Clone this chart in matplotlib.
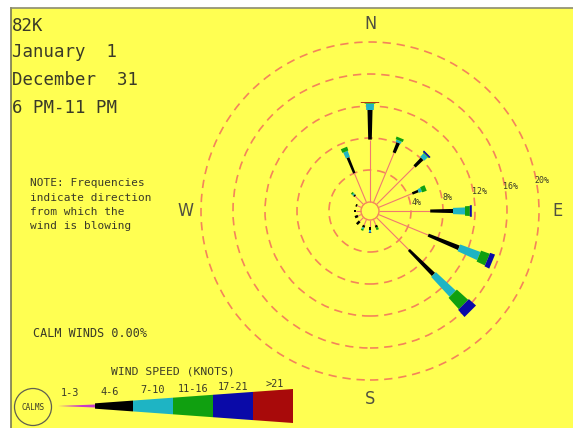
import matplotlib
matplotlib.use('Agg')
import matplotlib.pyplot as plt
from matplotlib.patches import Circle, Polygon, Rectangle
import numpy as np

W, H = 573, 428            # output size in px
CX, CY = 370, 211          # rose centre (px, from top-left)
PX_PER_PCT = 8.0
CALM_R = 9 / PX_PER_PCT    # calm circle radius, in % units

# 16 compass points, bearings clockwise from north
directions = ['N', 'NNE', 'NE', 'ENE', 'E', 'ESE', 'SE', 'SSE',
              'S', 'SSW', 'SW', 'WSW', 'W', 'WNW', 'NW', 'NNW']
bearings = np.arange(16) * 22.5

speed_classes = ['1-3', '4-6', '7-10', '11-16', '17-21', '>21']
class_colors = ['#C83CC8', '#000000', '#1EB4C4', '#10A010', '#0A0AA8', '#A80A0A']

# frequency (%) per direction for each speed class
freq_1_3 = [7.8, 6.75, 6.75, 4.6, 6.4, 6.75, 5.75, 0.8, 0.9, 0.8, 0.7, 0.5, 0.6, 0.6, 1.5, 4.0]
freq_4_6 = [3.7, 1.35, 1.35, 0.8, 2.85, 4.15, 4.35, 0.3, 0.3, 0.3, 0.5, 0.4, 0.3, 0.2, 0.2, 2.1]
freq_7_10 = [0.8, 0.3, 0.6, 0.4, 1.5, 2.7, 3.4, 0.0, 0.3, 0.2, 0.0, 0.0, 0.0, 0.0, 0.2, 0.8]
freq_11_16 = [0.1, 0.35, 0.1, 0.6, 0.6, 1.15, 1.9, 0.3, 0.0, 0.2, 0.0, 0.0, 0.0, 0.0, 0.2, 0.5]
freq_17_21 = [0.0, 0.0, 0.2, 0.0, 0.25, 0.65, 1.2, 0.0, 0.1, 0.0, 0.0, 0.0, 0.0, 0.0, 0.0, 0.0]
freq_over_21 = [0.1, 0.0, 0.0, 0.0, 0.0, 0.0, 0.0, 0.0, 0.0, 0.0, 0.0, 0.0, 0.0, 0.0, 0.0, 0.0]

ring_levels = [4, 8, 12, 16, 20]
ring_labels = ['4%', '8%', '12%', '16%', '20%']

header_lines = ['82K', 'January  1', 'December  31', '6 PM-11 PM']
note_lines = ['NOTE: Frequencies', 'indicate direction', 'from which the', 'wind is blowing']
calm_text = 'CALM WINDS 0.00%'

# bar width as a fraction of distance from the centre, per speed class
width_factor = [0.0, 0.05, 0.075, 0.10, 0.115, 0.17]
MIN_W = 2.5 / PX_PER_PCT

YELLOW = '#FFFF52'
SALMON = '#F4845A'
INK = '#3A3A28'


def fxy(x, y):
    return x / W, 1 - y / H


fig = plt.figure(figsize=(W / 100, H / 100), dpi=100, facecolor='white')
fig.patches.append(Rectangle(fxy(10.5, H), (W - 10.5) / W, (H - 7.5) / H,
                             transform=fig.transFigure, facecolor=YELLOW,
                             edgecolor='none', zorder=-10))
fig.lines.append(plt.Line2D([10.5 / W, 10.5 / W], [0, 1 - 7.5 / H],
                            transform=fig.transFigure, color='#7C7C50', lw=1.2))
fig.lines.append(plt.Line2D([10.5 / W, 1], [1 - 7.5 / H, 1 - 7.5 / H],
                            transform=fig.transFigure, color='#8C8C70', lw=1.2))

# rose axes: 1 data unit = 1 %
rax = fig.add_axes([0, 0, 1, 1])
rax.set_xlim(-CX / PX_PER_PCT, (W - CX) / PX_PER_PCT)
rax.set_ylim(-(H - CY) / PX_PER_PCT, CY / PX_PER_PCT)
rax.axis('off')
rax.patch.set_alpha(0)

for lev in ring_levels:
    rax.add_patch(Circle((0, 0), CALM_R + lev, fill=False, ec=SALMON,
                         lw=1.2, ls=(0, (5, 3.5)), zorder=1))

label_brg = np.radians(80)
for lev, lab in zip(ring_levels, ring_labels):
    r = CALM_R + lev + 0.75
    rax.text(r * np.sin(label_brg), r * np.cos(label_brg), lab,
             fontsize=6, family='DejaVu Sans Mono', color=INK,
             ha='center', va='center', zorder=5)

classes = [freq_1_3, freq_4_6, freq_7_10, freq_11_16, freq_17_21, freq_over_21]
for i, brg in enumerate(np.radians(bearings)):
    d = np.array([np.sin(brg), np.cos(brg)])
    p = np.array([np.cos(brg), -np.sin(brg)])
    r0 = CALM_R
    for k, vals in enumerate(classes):
        f = vals[i]
        if f <= 0:
            continue
        r1 = r0 + f
        if k == 0:
            rax.plot([r0 * d[0], r1 * d[0]], [r0 * d[1], r1 * d[1]],
                     color='#F07A70', lw=0.8, zorder=2, solid_capstyle='butt')
        else:
            h0 = max(width_factor[k] * r0, MIN_W) / 2
            h1 = max(width_factor[k] * r1, MIN_W) / 2
            pts = [r0 * d + h0 * p, r1 * d + h1 * p, r1 * d - h1 * p, r0 * d - h0 * p]
            rax.add_patch(Polygon(pts, closed=True, fc=class_colors[k],
                                  ec='none', zorder=3 + k))
        r0 = r1

rax.add_patch(Circle((0, 0), CALM_R, fill=False, ec=SALMON, lw=1.0, zorder=10))

# compass letters
compass = {'N': (370, 24), 'S': (370, 399), 'W': (185, 211), 'E': (558, 211)}
for lab, (x, y) in compass.items():
    fig.text(*fxy(x, y), lab, fontsize=13, family='DejaVu Sans',
             fontstretch='condensed', color='#505040', ha='center', va='center')

# header and notes
for txt, y in zip(header_lines, [31, 57, 85, 113]):
    fig.text(*fxy(12, y), txt, fontsize=12.5, family='DejaVu Sans Mono',
             color=INK, ha='left', va='baseline')

for txt, y in zip(note_lines, [186, 201, 215, 229]):
    fig.text(*fxy(30, y), txt, fontsize=8, family='DejaVu Sans Mono',
             color=INK, ha='left', va='baseline')

fig.text(*fxy(33, 337), calm_text, fontsize=8.5, family='DejaVu Sans Mono',
         color=INK, ha='left', va='baseline')

# speed legend: one tapering wedge split into classes
lax = fig.add_axes([0, 0, 1, 1])
lax.set_xlim(0, W)
lax.set_ylim(H, 0)
lax.axis('off')
lax.patch.set_alpha(0)

leg_x = [58, 95, 133, 173, 213, 253, 293]
leg_y = 406
half_h = lambda x: 17 * (x - leg_x[0]) / (leg_x[-1] - leg_x[0])
for k, col in enumerate(class_colors):
    xa, xb = leg_x[k], leg_x[k + 1]
    ha_, hb_ = half_h(xa), half_h(xb)
    if k == 0:
        ha_, hb_ = 0, 1.5
    lax.add_patch(Polygon([(xa, leg_y - ha_), (xb, leg_y - hb_),
                           (xb, leg_y + hb_), (xa, leg_y + ha_)],
                          closed=True, fc=col, ec='none'))

leg_label_pos = [(70, 393), (110, 392), (153, 390), (193, 389), (233, 387), (275, 384)]
for lab, (x, y) in zip(speed_classes, leg_label_pos):
    lax.text(x, y, lab, fontsize=7.4, family='DejaVu Sans Mono', color=INK,
             ha='center', va='center')

lax.text(173, 372, 'WIND SPEED (KNOTS)', fontsize=8.2, family='DejaVu Sans Mono',
         color=INK, ha='center', va='center')

lax.add_patch(Circle((33, 407), 18.5, fill=False, ec='#606050', lw=0.9))
lax.text(33, 407, 'CALMS', fontsize=5.5, family='DejaVu Sans Mono', color=INK,
         ha='center', va='center')

fig.savefig('out.png', dpi=100, facecolor=fig.get_facecolor())
